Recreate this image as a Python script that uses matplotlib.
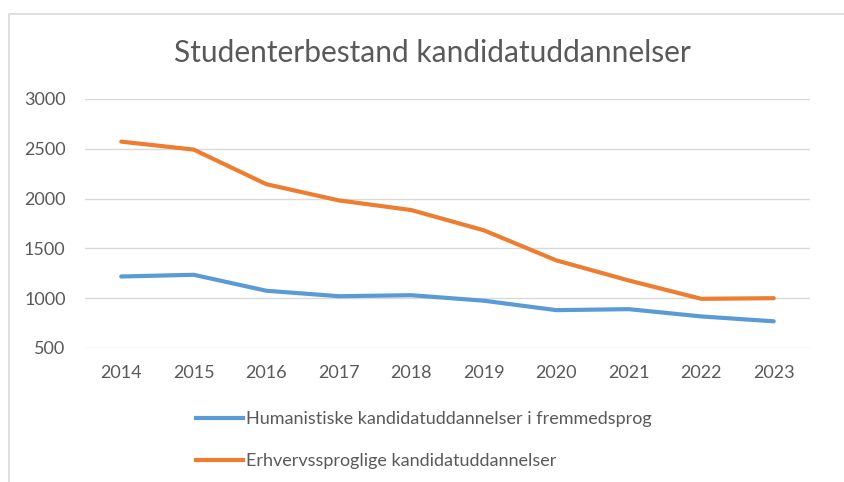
import matplotlib
matplotlib.use("Agg")
import matplotlib.pyplot as plt
from matplotlib.patches import Rectangle
from matplotlib.lines import Line2D

years = ["2014", "2015", "2016", "2017", "2018", "2019", "2020", "2021", "2022", "2023"]
humanistiske = [1218, 1235, 1075, 1020, 1030, 975, 880, 890, 817, 768]
erhvervs = [2572, 2492, 2145, 1982, 1885, 1682, 1380, 1178, 994, 1000]
series_names = ["Humanistiske kandidatuddannelser i fremmedsprog",
                "Erhvervssproglige kandidatuddannelser"]
yticks = [500, 1000, 1500, 2000, 2500, 3000]

plt.rcParams['font.family'] = ['Lato', 'DejaVu Sans']
W, H = 844, 482
fig = plt.figure(figsize=(W / 100, H / 100), dpi=100)

# chart border
fig.patches.append(Rectangle((9 / W, -0.1), 1.1, 1 - 14 / H + 0.1, transform=fig.transFigure,
                             fill=False, edgecolor='#D9D9D9', linewidth=1.2))

ax = fig.add_axes([85 / W, 1 - 348 / H, (810 - 85) / W, (348 - 99) / H])
x = list(range(len(years)))
ax.plot(x, humanistiske, color='#5B9BD5', linewidth=3.0, solid_capstyle='round', solid_joinstyle='round')
ax.plot(x, erhvervs, color='#ED7D31', linewidth=3.0, solid_capstyle='round', solid_joinstyle='round')

ax.set_xlim(-0.5, len(years) - 0.5)
ax.set_ylim(500, 3000)
ax.set_yticks(yticks)
ax.set_yticklabels([str(v) for v in yticks])
ax.set_xticks(x)
ax.set_xticklabels(years)
ax.grid(axis='y', color='#D9D9D9', linewidth=1.0)
ax.set_axisbelow(True)
for s in ax.spines.values():
    s.set_visible(False)
ax.tick_params(length=0, labelsize=13, colors='#595959')
ax.tick_params(axis='y', pad=14)
ax.tick_params(axis='x', pad=12)

fig.text(432 / W, 1 - 53 / H, "Studenterbestand kandidatuddannelser", ha='center', va='center',
         fontsize=21.5, color='#595959', fontweight='normal')

handles = [Line2D([0], [0], color='#5B9BD5', linewidth=3.0),
           Line2D([0], [0], color='#ED7D31', linewidth=3.0)]
fig.legend(handles, series_names, loc='center left', bbox_to_anchor=(180 / W, 1 - 440 / H),
           frameon=False, fontsize=13, labelcolor='#595959', handlelength=2.6,
           handletextpad=0.15, labelspacing=1.45)

fig.savefig("out.png", dpi=100)
